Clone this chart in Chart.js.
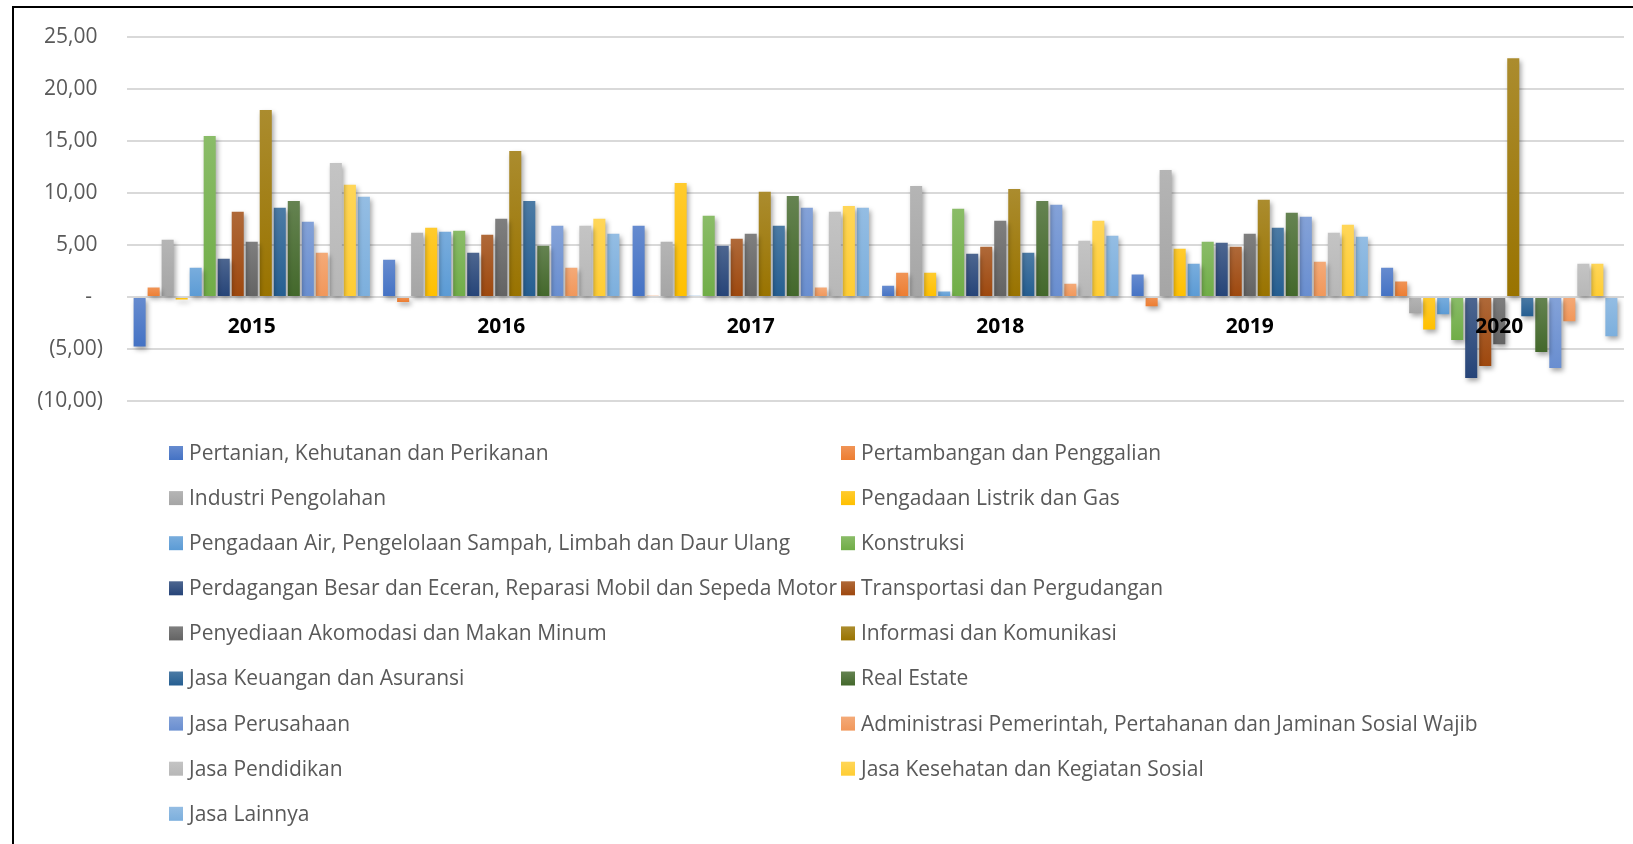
<!DOCTYPE html>
<html>
<head>
<meta charset="utf-8">
<script src="https://cdn.jsdelivr.net/npm/chart.js@4.4.1/dist/chart.umd.min.js"></script>
<style>
  body { margin: 0; background: #fff; overflow: hidden; }
  canvas { display: block; }
</style>
</head>
<body>
<canvas id="sectorChart" width="1633" height="844"></canvas>
<script>
const years = ['2015', '2016', '2017', '2018', '2019', '2020'];

const sectors = [
  'Pertanian, Kehutanan dan Perikanan',
  'Pertambangan dan Penggalian',
  'Industri Pengolahan',
  'Pengadaan Listrik dan Gas',
  'Pengadaan Air, Pengelolaan Sampah, Limbah dan Daur Ulang',
  'Konstruksi',
  'Perdagangan Besar dan Eceran, Reparasi Mobil dan Sepeda Motor',
  'Transportasi dan Pergudangan',
  'Penyediaan Akomodasi dan Makan Minum',
  'Informasi dan Komunikasi',
  'Jasa Keuangan dan Asuransi',
  'Real Estate',
  'Jasa Perusahaan',
  'Administrasi Pemerintah, Pertahanan dan Jaminan Sosial Wajib',
  'Jasa Pendidikan',
  'Jasa Kesehatan dan Kegiatan Sosial',
  'Jasa Lainnya'
];

const sectorColors = [
  '#4472C4', '#ED7D31', '#A5A5A5', '#FFC000', '#5B9BD5', '#70AD47',
  '#264478', '#9E480E', '#636363', '#997300', '#255E91', '#43682B',
  '#698ED0', '#F1975A', '#B7B7B7', '#FFCD33', '#7CAFDD'
];

// growth per sector, one array per year (same order as sectors)
const growth2015 = [-4.76, 0.89, 5.49, -0.25, 2.81, 15.45, 3.67, 8.17, 5.30, 17.94, 8.55, 9.22, 7.21, 4.24, 12.86, 10.76, 9.61];
const growth2016 = [3.57, -0.50, 6.16, 6.64, 6.25, 6.35, 4.24, 5.97, 7.50, 14.01, 9.22, 4.91, 6.83, 2.81, 6.83, 7.50, 6.06];
const growth2017 = [6.83, 0.12, 5.30, 10.95, 0.10, 7.79, 4.91, 5.58, 6.06, 10.09, 6.83, 9.70, 8.55, 0.89, 8.17, 8.74, 8.55];
const growth2018 = [1.08, 2.33, 10.66, 2.33, 0.51, 8.46, 4.15, 4.82, 7.31, 10.37, 4.24, 9.22, 8.84, 1.27, 5.39, 7.31, 5.87];
const growth2019 = [2.14, -0.90, 12.19, 4.63, 3.19, 5.30, 5.20, 4.82, 6.06, 9.32, 6.64, 8.07, 7.69, 3.38, 6.16, 6.93, 5.78];
const growth2020 = [2.81, 1.47, -1.57, -3.13, -1.66, -4.15, -7.79, -6.64, -4.54, 22.92, -1.86, -5.30, -6.83, -2.33, 3.19, 3.19, -3.77];

const yearValues = [growth2015, growth2016, growth2017, growth2018, growth2019, growth2020];

const FONT = "'Open Sans', 'Noto Sans', sans-serif";

// mix a hex colour with white
function tint(hex, amt) {
  const n = parseInt(hex.slice(1), 16);
  const r = (n >> 16) & 255, g = (n >> 8) & 255, b = n & 255;
  const m = c => Math.round(c + (255 - c) * amt);
  return 'rgb(' + m(r) + ',' + m(g) + ',' + m(b) + ')';
}

function barFill(color) {
  return function (ctx) {
    const chart = ctx.chart;
    if (!chart.chartArea || ctx.raw === undefined) return color;
    const y = chart.scales.y;
    const top = y.getPixelForValue(Math.max(ctx.raw, 0));
    const bottom = y.getPixelForValue(Math.min(ctx.raw, 0));
    if (!isFinite(top) || !isFinite(bottom) || bottom - top < 1) return color;
    const grad = chart.ctx.createLinearGradient(0, top, 0, bottom);
    grad.addColorStop(0, tint(color, 0.18));
    grad.addColorStop(1, color);
    return grad;
  };
}

function fmtTick(v) {
  if (v === 0) return '-  ';
  const s = Math.abs(v).toFixed(2).replace('.', ',');
  return v < 0 ? '(' + s + ')' : s + ' ';
}

const datasets = sectors.map((name, i) => ({
  label: name,
  data: yearValues.map(arr => arr[i]),
  backgroundColor: barFill(sectorColors[i]),
  legendColor: sectorColors[i],
  categoryPercentage: 0.955,
  barPercentage: 0.86
}));

// soft shadow under the bars, like the office chart
const barShadow = {
  id: 'barShadow',
  beforeDatasetsDraw(chart) {
    const ctx = chart.ctx;
    ctx.save();
    ctx.shadowColor = 'rgba(0,0,0,0.35)';
    ctx.shadowBlur = 5;
    ctx.shadowOffsetX = 2;
    ctx.shadowOffsetY = 3;
  },
  afterDatasetsDraw(chart) {
    chart.ctx.restore();
  }
};

// two column legend + outer frame
const twoColLegend = {
  id: 'twoColLegend',
  afterDraw(chart) {
    const ctx = chart.ctx;
    ctx.save();
    ctx.font = '21px ' + FONT;
    ctx.textBaseline = 'middle';
    ctx.textAlign = 'left';
    chart.data.datasets.forEach((ds, i) => {
      const row = Math.floor(i / 2);
      const x = i % 2 === 0 ? 169 : 841;
      const y = 453 + row * 45.1;
      const g = ctx.createLinearGradient(0, y - 7, 0, y + 7);
      g.addColorStop(0, tint(ds.legendColor, 0.18));
      g.addColorStop(1, ds.legendColor);
      ctx.fillStyle = g;
      ctx.fillRect(x, y - 7, 14, 14);
      ctx.fillStyle = '#595959';
      ctx.fillText(ds.label, x + 20, y + 1);
    });

    ctx.strokeStyle = '#000';
    ctx.lineWidth = 2;
    ctx.beginPath();
    ctx.moveTo(13, 850);
    ctx.lineTo(13, 7);
    ctx.lineTo(1640, 7);
    ctx.stroke();
    ctx.restore();
  }
};

new Chart(document.getElementById('sectorChart'), {
  type: 'bar',
  data: { labels: years, datasets: datasets },
  options: {
    responsive: false,
    animation: false,
    devicePixelRatio: 1,
    layout: { padding: { left: 0, top: 36, right: 9, bottom: 443 } },
    plugins: {
      legend: { display: false },
      tooltip: { enabled: false }
    },
    scales: {
      x: {
        position: { y: 0 },
        grid: { display: false, drawTicks: false },
        border: { display: false },
        ticks: {
          z: 1,
          color: '#000',
          padding: 18,
          font: { family: FONT, size: 21, weight: 'bold' }
        }
      },
      y: {
        min: -10,
        max: 25,
        afterFit(scale) { scale.width = 127; },
        grid: { color: '#d9d9d9', lineWidth: 2, drawTicks: false },
        border: { display: false },
        ticks: {
          stepSize: 5,
          padding: 24,
          color: '#595959',
          font: { family: FONT, size: 21 },
          callback: v => fmtTick(v)
        }
      }
    }
  },
  plugins: [barShadow, twoColLegend]
});
</script>
</body>
</html>
